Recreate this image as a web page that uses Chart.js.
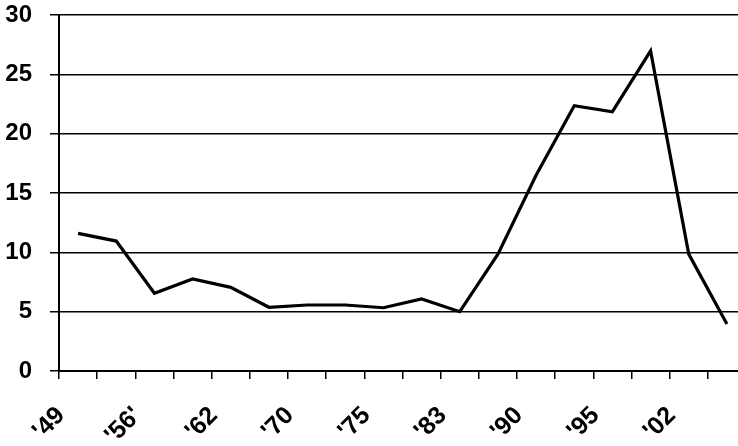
<!DOCTYPE html>
<html>
<head>
<meta charset="utf-8">
<script src="https://cdn.jsdelivr.net/npm/chart.js@4"></script>
<style>
  html, body { margin: 0; padding: 0; background: #fff; overflow: hidden; }
  #wrap { width: 752px; height: 446px; position: relative; }
</style>
</head>
<body>
<div id="wrap"><canvas id="c"></canvas></div>
<script>
const categories = ["'49", "", "'56'", "", "'62", "", "'70", "", "'75", "", "'83", "", "'90", "", "'95", "", "'02", ""];
const values = [11.6, 10.95, 6.55, 7.75, 7.05, 5.37, 5.56, 5.56, 5.33, 6.07, 5.0, 9.85, 16.5, 22.35, 21.85, 26.98, 9.85, 3.96];
const yTicks = [0, 5, 10, 15, 20, 25, 30];

function noPad(s) { s.paddingTop = 0; s.paddingBottom = 0; s.paddingLeft = 0; s.paddingRight = 0; }

new Chart(document.getElementById('c'), {
  type: 'line',
  data: {
    labels: categories,
    datasets: [{
      data: values,
      borderColor: '#000',
      borderWidth: 3.2,
      pointRadius: 0,
      tension: 0,
      fill: false
    }]
  },
  options: {
    responsive: true,
    maintainAspectRatio: false,
    animation: false,
    layout: { padding: { top: 15, right: 6, left: 0, bottom: 0 } },
    plugins: { legend: { display: false }, tooltip: { enabled: false } },
    scales: {
      x: {
        offset: true,
        afterFit: s => { s.height = 75; noPad(s); },
        grid: { offset: true, drawOnChartArea: false, drawTicks: true, tickLength: 8, color: '#000', lineWidth: 1.5 },
        border: { color: '#000', width: 2 },
        ticks: {
          autoSkip: false,
          maxRotation: 45, minRotation: 45,
          padding: 22,
          labelOffset: -17,
          color: '#000',
          font: { family: 'Liberation Sans, Arial, sans-serif', size: 25, weight: 'bold' }
        }
      },
      y: {
        min: 0, max: 30,
        afterFit: s => { s.width = 59; noPad(s); },
        afterBuildTicks: s => { s.ticks = yTicks.map(v => ({ value: v })); },
        grid: { color: '#000', lineWidth: 1.5, tickLength: 9 },
        border: { color: '#000', width: 2 },
        ticks: {
          padding: 18,
          color: '#000',
          font: { family: 'Liberation Sans, Arial, sans-serif', size: 24, weight: 'bold' }
        }
      }
    }
  }
});
</script>
</body>
</html>
